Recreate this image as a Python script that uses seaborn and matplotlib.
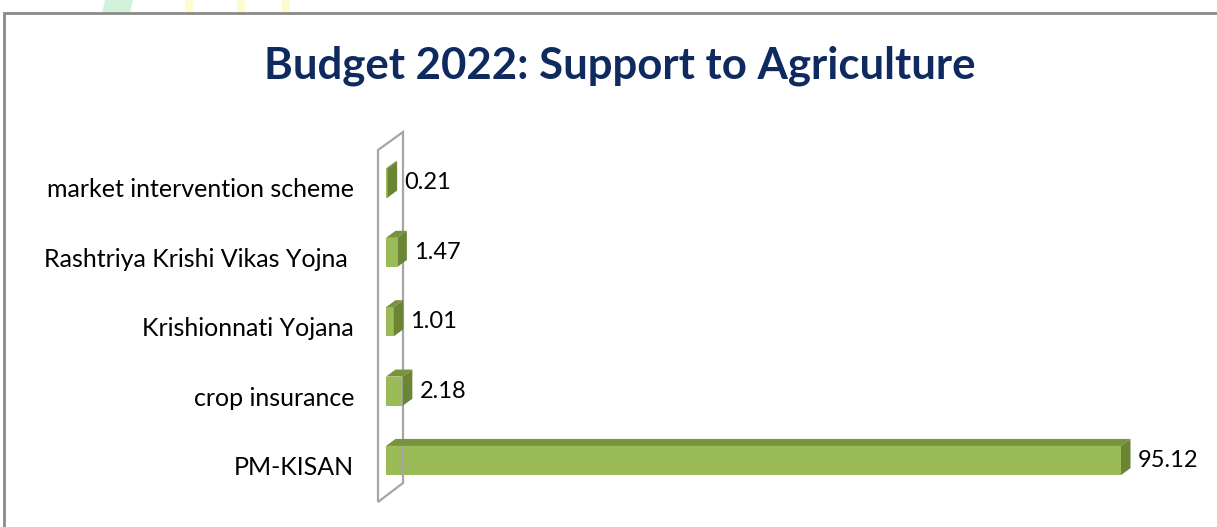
import matplotlib
matplotlib.use("Agg")
import matplotlib.pyplot as plt
import matplotlib.transforms as mtrans
import seaborn as sns
import pandas as pd
from matplotlib.patches import Polygon, Rectangle

categories = ["market intervention scheme", "Rashtriya Krishi Vikas Yojna ", "Krishionnati Yojana",
              "crop insurance", "PM-KISAN"]
values = [0.21, 1.47, 1.01, 2.18, 95.12]
title = "Budget 2022: Support to Agriculture"

df = pd.DataFrame({"category": categories, "value": values})

sns.set_theme(style="white")
plt.rcParams["font.family"] = ["Lato", "DejaVu Sans"]

W, H = 1217, 527
fig = plt.figure(figsize=(W / 100, H / 100), dpi=100)
fig.patch.set_facecolor("white")

# watermark fragments above the frame
fig.patches.append(Polygon([[105 / W, 1], [133 / W, 1], [130 / W, 1 - 13 / H], [102 / W, 1 - 13 / H]],
                           closed=True, transform=fig.transFigure, facecolor="#d3f2dc", edgecolor="none"))
for x0 in (185, 237, 282):
    fig.patches.append(Rectangle((x0 / W, 1 - 13 / H), 8 / W, 13 / H, transform=fig.transFigure,
                                 facecolor="#fffbd0", edgecolor="none"))
# chart frame
fig.patches.append(Rectangle((4 / W, -0.05), 1.2, 1 - 13 / H + 0.05, transform=fig.transFigure,
                             facecolor="none", edgecolor="#8a8a8a", linewidth=2))

ax_l, ax_r, ax_t, ax_b = 386, 1200, 140, 505
ax = fig.add_axes([ax_l / W, (H - ax_b) / H, (ax_r - ax_l) / W, (ax_b - ax_t) / H])
ax.set_facecolor("none")

front = "#9bbb59"
topc = "#77933c"
sidec = "#6b8535"

sns.barplot(data=df, x="value", y="category", orient="h", color=front, width=0.42,
            saturation=1, ax=ax, edgecolor="none")
scale = 735 / 95.12
ax.set_xlim(0, (ax_r - ax_l) / scale)
y0 = 183
ppu = 69.4
ax.set_ylim(4 + (ax_b - 460.5) / ppu, -(y0 - ax_t) / ppu)

# back wall (3D decoration)
pts = [[378, 502], [378, 150], [403, 132], [403, 483]]
wall = Polygon([[p[0] / W, (H - p[1]) / H] for p in pts], closed=True, transform=fig.transFigure,
               facecolor="none", edgecolor="#a6a6a6", linewidth=1.6)
fig.patches.append(wall)

# 3D faces computed from bar geometry
dx, dy = 9.5, 7.0  # pixels
fig.canvas.draw()
inv = fig.transFigure.inverted()
for bar, v in zip(ax.patches, values):
    x0, y_top = bar.get_x(), bar.get_y()
    x1, y_bot = x0 + bar.get_width(), y_top + bar.get_height()
    (px0, py_b) = ax.transData.transform((x0, y_bot))
    (px1, py_t) = ax.transData.transform((x1, y_top))
    top = [(px0, py_t), (px1, py_t), (px1 + dx, py_t + dy), (px0 + dx, py_t + dy)]
    side = [(px1, py_b), (px1, py_t), (px1 + dx, py_t + dy), (px1 + dx, py_b + dy)]
    for poly, c in ((top, topc), (side, sidec)):
        fig.patches.append(Polygon(inv.transform(poly), closed=True, transform=fig.transFigure,
                                   facecolor=c, edgecolor="none", zorder=3))

ax.bar_label(ax.containers[0], labels=[f"{v:.2f}" for v in values], padding=12, fontsize=17,
             color="black")

ax.set_xlabel("")
ax.set_ylabel("")
ax.set_xticks([])
ax.tick_params(axis="y", length=0, pad=23, labelsize=18, labelcolor="black")
off = mtrans.ScaledTranslation(0, -5 / 100, fig.dpi_scale_trans)
for lab in ax.get_yticklabels():
    lab.set_transform(lab.get_transform() + off)
for s in ax.spines.values():
    s.set_visible(False)

fig.text(620 / W, 1 - 66 / H, title, ha="center", va="center", fontsize=31.5, fontweight="bold",
         color="#0e2a5f")

fig.savefig("out.png", dpi=100, facecolor="white")
